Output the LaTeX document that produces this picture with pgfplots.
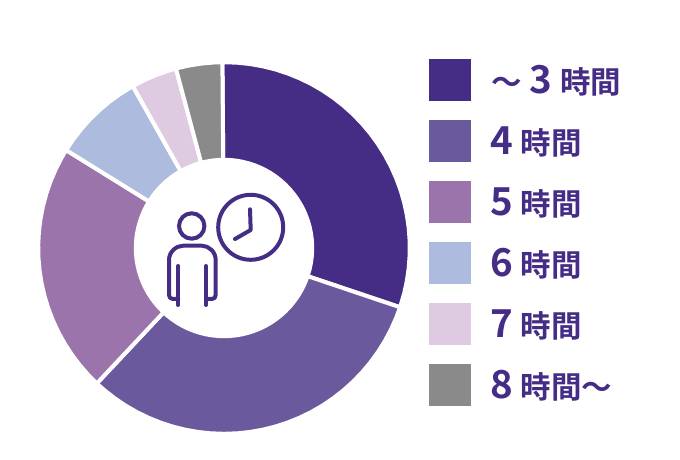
\documentclass[border=0pt]{standalone}
\usepackage{pgfplots}
\pgfplotsset{compat=1.18}
\usepackage{fontspec}
\setmainfont{Noto Sans CJK JP}[BoldFont={* Bold}]
\definecolor{c1}{HTML}{452C85}
\definecolor{c2}{HTML}{6B599E}
\definecolor{c3}{HTML}{9B74AC}
\definecolor{c4}{HTML}{ADBCDE}
\definecolor{c5}{HTML}{DFCBE1}
\definecolor{c6}{HTML}{8A8A8A}
\newcommand{\D}[1]{{\fontsize{38.5}{38}\selectfont\bfseries #1}}
\newcommand{\K}[1]{{\fontsize{30.5}{30}\selectfont\bfseries #1}}
\pgfplotsset{sector/.style={fill=#1,draw=white,line width=4pt,line join=round,no markers,data cs=polar}}
\begin{document}
\begin{tikzpicture}
\begin{axis}[
  x=1pt,y=1pt,
  xmin=-224,xmax=456,ymin=-212,ymax=248,
  hide axis,clip=false,
  legend cell align=left,
  legend style={at={(axis cs:205,189)},anchor=north west,draw=none,fill=none,inner sep=0pt,outer sep=0pt,
    row sep=19pt,text=c1,nodes={inner sep=0pt,outer sep=0pt},column sep=0pt},
  legend image code/.code={\fill[#1,draw=none] (0pt,-21pt) rectangle (42pt,21pt);},
]
\path (axis cs:-224,-212) rectangle (axis cs:456,248);
% shares about 30, 32, 22, 8, 4, 4 percent, clockwise from the top (polar: angle, radius)
\addplot[sector=c1] coordinates {(90.5,185.8)(86,185.8)(82,185.8)(78,185.8)(74,185.8)(70,185.8)(66,185.8)(62,185.8)(58,185.8)(54,185.8)(50,185.8)(46,185.8)(42,185.8)(38,185.8)(34,185.8)(30,185.8)(26,185.8)(22,185.8)(18,185.8)(14,185.8)(10,185.8)(6,185.8)(2,185.8)(-2,185.8)(-6,185.8)(-10,185.8)(-14,185.8)(-18.6,185.8)
(-18.6,88.2)(-14,88.2)(-10,88.2)(-6,88.2)(-2,88.2)(2,88.2)(6,88.2)(10,88.2)(14,88.2)(18,88.2)(22,88.2)(26,88.2)(30,88.2)(34,88.2)(38,88.2)(42,88.2)(46,88.2)(50,88.2)(54,88.2)(58,88.2)(62,88.2)(66,88.2)(70,88.2)(74,88.2)(78,88.2)(82,88.2)(86,88.2)(90.5,88.2)} --cycle;
\addlegendentry{\hspace{20pt}\K{〜}\hspace{8pt}\D{3}\hspace{8pt}\K{時間}}
\addplot[sector=c2] coordinates {(-18.6,185.8)(-22,185.8)(-26,185.8)(-30,185.8)(-34,185.8)(-38,185.8)(-42,185.8)(-46,185.8)(-50,185.8)(-54,185.8)(-58,185.8)(-62,185.8)(-66,185.8)(-70,185.8)(-74,185.8)(-78,185.8)(-82,185.8)(-86,185.8)(-90,185.8)(-94,185.8)(-98,185.8)(-102,185.8)(-106,185.8)(-110,185.8)(-114,185.8)(-118,185.8)(-122,185.8)(-126,185.8)(-130,185.8)(-133.2,185.8)
(-133.2,88.2)(-130,88.2)(-126,88.2)(-122,88.2)(-118,88.2)(-114,88.2)(-110,88.2)(-106,88.2)(-102,88.2)(-98,88.2)(-94,88.2)(-90,88.2)(-86,88.2)(-82,88.2)(-78,88.2)(-74,88.2)(-70,88.2)(-66,88.2)(-62,88.2)(-58,88.2)(-54,88.2)(-50,88.2)(-46,88.2)(-42,88.2)(-38,88.2)(-34,88.2)(-30,88.2)(-26,88.2)(-22,88.2)(-18.6,88.2)} --cycle;
\addlegendentry{\hspace{19pt}\D{4}\hspace{8pt}\K{時間}}
\addplot[sector=c3] coordinates {(-133.2,185.8)(-137,185.8)(-141,185.8)(-145,185.8)(-149,185.8)(-153,185.8)(-157,185.8)(-161,185.8)(-165,185.8)(-169,185.8)(-173,185.8)(-177,185.8)(-181,185.8)(-185,185.8)(-189,185.8)(-193,185.8)(-197,185.8)(-201,185.8)(-205,185.8)(-209,185.8)(-211.8,185.8)
(-211.8,88.2)(-209,88.2)(-205,88.2)(-201,88.2)(-197,88.2)(-193,88.2)(-189,88.2)(-185,88.2)(-181,88.2)(-177,88.2)(-173,88.2)(-169,88.2)(-165,88.2)(-161,88.2)(-157,88.2)(-153,88.2)(-149,88.2)(-145,88.2)(-141,88.2)(-137,88.2)(-133.2,88.2)} --cycle;
\addlegendentry{\hspace{19pt}\D{5}\hspace{8pt}\K{時間}}
\addplot[sector=c4] coordinates {(-211.8,185.8)(-216,185.8)(-220,185.8)(-224,185.8)(-228,185.8)(-232,185.8)(-236,185.8)(-240.6,185.8)
(-240.6,88.2)(-236,88.2)(-232,88.2)(-228,88.2)(-224,88.2)(-220,88.2)(-216,88.2)(-211.8,88.2)} --cycle;
\addlegendentry{\hspace{19pt}\D{6}\hspace{8pt}\K{時間}}
\addplot[sector=c5] coordinates {(-240.6,185.8)(-245,185.8)(-249,185.8)(-253,185.8)(-255,185.8)
(-255,88.2)(-253,88.2)(-249,88.2)(-245,88.2)(-240.6,88.2)} --cycle;
\addlegendentry{\hspace{19pt}\D{7}\hspace{8pt}\K{時間}}
\addplot[sector=c6] coordinates {(-255,185.8)(-259,185.8)(-263,185.8)(-267,185.8)(-269.5,185.8)
(-269.5,88.2)(-267,88.2)(-263,88.2)(-259,88.2)(-255,88.2)} --cycle;
\addlegendentry{\hspace{19pt}\D{8}\hspace{8pt}\K{時間〜}}
% icon
\draw[c1,line width=4pt] (axis cs:-32.3,22) circle[radius=12.7pt];
\draw[c1,line width=4pt] (axis cs:26.7,20.7) circle[radius=32.5pt];
\draw[c1,line width=4pt,line cap=round,line join=round] (axis cs:26,38.7) -- (axis cs:26.7,18) -- (axis cs:11,9);
\draw[c1,line width=4pt,line cap=round,line join=round]
  (axis cs:-45.7,-51) -- (axis cs:-51,-51) .. controls (axis cs:-53.5,-51) and (axis cs:-55,-49.5) .. (axis cs:-55,-47)
  -- (axis cs:-55,-12) .. controls (axis cs:-55,-4) and (axis cs:-48,2.3) .. (axis cs:-40.7,2.3)
  -- (axis cs:-22.3,2.3) .. controls (axis cs:-15,2.3) and (axis cs:-8.3,-4) .. (axis cs:-8.3,-12)
  -- (axis cs:-8.3,-47) .. controls (axis cs:-8.3,-49.5) and (axis cs:-10,-51) .. (axis cs:-12,-51) -- (axis cs:-18,-51);
\draw[c1,line width=4pt,line cap=round] (axis cs:-45.7,-18) -- (axis cs:-45.7,-57);
\draw[c1,line width=4pt,line cap=round] (axis cs:-18,-18) -- (axis cs:-18,-57);
\end{axis}
\end{tikzpicture}
\end{document}
